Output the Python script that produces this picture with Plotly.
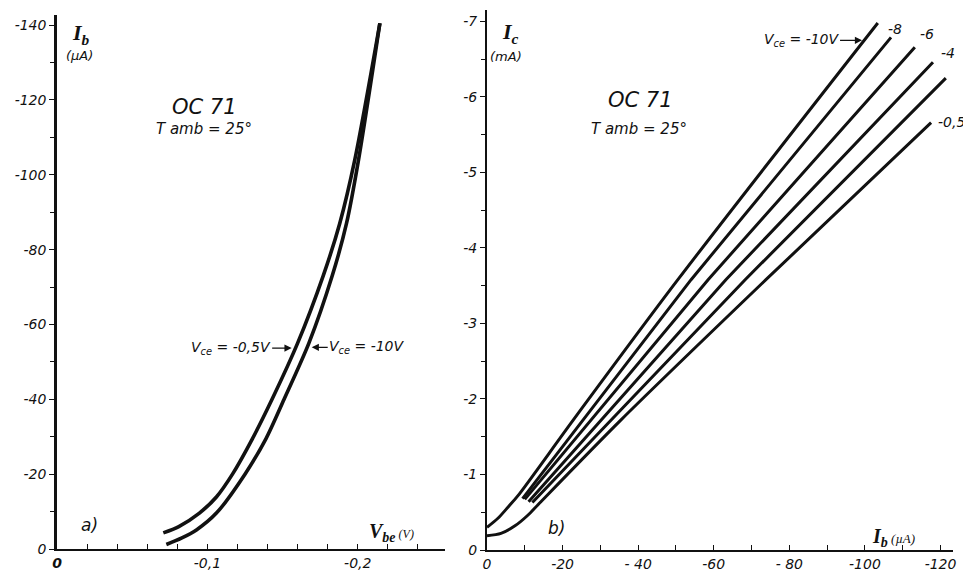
import plotly.graph_objects as go

# ---------------- data: panel a) Ib vs Vbe ----------------
vbe_05 = [-0.0707, -0.081, -0.0947, -0.106, -0.1167, -0.130, -0.143, -0.160, -0.177, -0.188, -0.198, -0.2147]
ib_05 = [-4.3, -6.0, -9.6, -13.9, -20, -29.5, -40, -55, -73, -87, -104, -140.5]
vbe_10 = [-0.0727, -0.0827, -0.0927, -0.106, -0.125, -0.139, -0.151, -0.1675, -0.183, -0.1925, -0.2005, -0.2147]
ib_10 = [-1.2, -2.9, -5.1, -9.6, -20, -29.5, -40, -55, -73, -87, -104, -140.5]

# ---------------- data: panel b) Ic vs Ib ----------------
ib_v10 = [0, -2.9, -5.6, -8.2, -22.8, -50.5, -103.4]
ic_v10 = [-0.30, -0.42, -0.57, -0.72, -1.72, -3.58, -6.98]
ib_v8 = [-9.4, -25.4, -54.0, -106.9]
ic_v8 = [-0.68, -1.72, -3.58, -6.79]
ib_v6 = [-10.0, -27.5, -58.5, -113.2]
ic_v6 = [-0.67, -1.72, -3.58, -6.66]
ib_v4 = [-11.0, -30.2, -63.2, -118.0]
ic_v4 = [-0.64, -1.72, -3.58, -6.46]
ib_v2 = [-12.0, -32.8, -68.3, -121.4]
ic_v2 = [-0.63, -1.72, -3.58, -6.25]
ib_v05 = [0, -3.7, -7.4, -10.8, -13.5, -35.4, -73.8, -117.5]
ic_v05 = [-0.19, -0.22, -0.32, -0.46, -0.60, -1.72, -3.58, -5.66]

# ---------------- tick labels ----------------
a_x_vals = [0, -0.1, -0.2]
a_x_text = ["<b>0</b>", "-0,1", "-0,2"]
a_y_vals = [0, -20, -40, -60, -80, -100, -120, -140]
a_y_text = ["0", "-20", "-40", "-60", "-80", "-100", "-120", "-140"]
b_x_vals = [0, -20, -40, -60, -80, -100, -120]
b_x_text = ["0", "-20", "- 40", "-60", "- 80", "-100", "-120"]
b_y_vals = [0, -1, -2, -3, -4, -5, -6, -7]
b_y_text = ["0", "-1", "-2", "-3", "-4", "-5", "-6", "-7"]

# page body has an 8px margin, so the figure is drawn 8px smaller and offset
OFF = 8
W, H = 971 - OFF, 575 - OFF
INK = "#111111"
FONT = "DejaVu Sans"
SERIF = "Liberation Serif"

fig = go.Figure()

def line(x, y, xa, ya, w, shape="spline"):
    fig.add_trace(go.Scatter(x=x, y=y, mode="lines", xaxis=xa, yaxis=ya,
                             line=dict(color=INK, width=w, shape=shape, smoothing=0.8),
                             showlegend=False, hoverinfo="skip"))

line(vbe_05, ib_05, "x", "y", 3.6)
line(vbe_10, ib_10, "x", "y", 3.6)
line(ib_v10, ic_v10, "x2", "y2", 3.0)
line(ib_v8, ic_v8, "x2", "y2", 3.0, "linear")
line(ib_v6, ic_v6, "x2", "y2", 3.0, "linear")
line(ib_v4, ic_v4, "x2", "y2", 3.0, "linear")
line(ib_v2, ic_v2, "x2", "y2", 3.0, "linear")
line(ib_v05, ic_v05, "x2", "y2", 3.0)

tickfont = dict(family=FONT, size=14, color=INK, style="italic")

def px_x(p):
    return (p - OFF) / W

def px_y(p):
    return (575 - p) / H

common = dict(showgrid=False, zeroline=False, showline=True, linecolor=INK,
              tickcolor=INK, tickfont=tickfont, tickmode="array", automargin=False)

fig.update_layout(
    width=W, height=H, margin=dict(l=0, r=0, t=0, b=0, autoexpand=False),
    paper_bgcolor="white", plot_bgcolor="white",
    xaxis=dict(domain=[px_x(57), px_x(445)], range=[0, -0.258], anchor="y",
               tickvals=a_x_vals, ticktext=a_x_text, ticks="inside", ticklen=5,
               linewidth=2, minor=dict(dtick=0.02, tick0=0, ticks="inside", ticklen=5, tickcolor=INK),
               **common),
    yaxis=dict(domain=[px_y(549), px_y(15)], range=[0, -142.7], anchor="x",
               tickvals=a_y_vals, ticktext=a_y_text, ticks="outside", ticklen=5,
               linewidth=2.5, minor=dict(dtick=10, tick0=0, ticks="outside", ticklen=4, tickcolor=INK),
               **common),
    xaxis2=dict(domain=[px_x(487), px_x(953)], range=[0, -123.3], anchor="y2",
                tickvals=b_x_vals, ticktext=b_x_text, ticks="inside", ticklen=5,
                linewidth=2, minor=dict(dtick=10, tick0=0, ticks="inside", ticklen=5, tickcolor=INK),
                **common),
    yaxis2=dict(domain=[px_y(550), px_y(10)], range=[0, -7.152], anchor="x2",
                tickvals=b_y_vals, ticktext=b_y_text, ticks="outside", ticklen=5,
                linewidth=2, minor=dict(dtick=0.5, tick0=0, ticks="outside", ticklen=4, tickcolor=INK),
                **common),
)

def txt(text, x, y, xref, yref, size=14, weight="normal", family=FONT, xanchor="center"):
    fig.add_annotation(text=text, x=x, y=y, xref=xref, yref=yref, showarrow=False,
                       xanchor=xanchor, yanchor="middle",
                       font=dict(family=family, size=size, color=INK, style="italic", weight=weight))

# panel a labels
txt("I<sub>b</sub>", -0.016, -137.6, "x", "y", size=22, weight="bold", family=SERIF)
txt("(µA)", -0.0147, -132, "x", "y", size=13)
txt("OC 71", -0.098, -118, "x", "y", size=21)
txt("T amb = 25°", -0.098, -112.3, "x", "y", size=15)
txt("a)", -0.0213, -6.4, "x", "y", size=17)
txt("<b>V<sub>be</sub></b><span style='font-size:12px'> (V)</span>", -0.2227, -4.3, "x", "y", size=20, family=SERIF)

def arrow(text, x, y, xref, yref, ax, size=14):
    fig.add_annotation(text=text, x=x, y=y, xref=xref, yref=yref, showarrow=True,
                       ax=ax, ay=0, arrowhead=2, arrowsize=1.2, arrowwidth=1.2,
                       arrowcolor=INK, standoff=1,
                       font=dict(family=FONT, size=size, color=INK, style="italic"))

arrow("V<sub>ce</sub> = -0,5V", -0.1567, -53.7, "x", "y", -62)
arrow("V<sub>ce</sub> = -10V", -0.1687, -53.9, "x", "y", 56)

# panel b labels
txt("I<sub>c</sub>", -6.1, -6.85, "x2", "y2", size=22, weight="bold", family=SERIF)
txt("(mA)", -5.0, -6.53, "x2", "y2", size=13)
txt("OC 71", -40.7, -5.96, "x2", "y2", size=21)
txt("T amb = 25°", -40.2, -5.58, "x2", "y2", size=15)
txt("b)", -18.3, -0.29, "x2", "y2", size=17)
txt("<b>I<sub>b</sub></b><span style='font-size:13px'> (µA)</span>", -107.5, -0.17, "x2", "y2", size=20, family=SERIF)
arrow("V<sub>ce</sub> = -10V", -99.5, -6.75, "x2", "y2", -62)
txt("-8", -107.9, -6.90, "x2", "y2", size=14)
txt("-6", -116.4, -6.83, "x2", "y2", size=14)
txt("-4", -122.0, -6.58, "x2", "y2", size=14)
txt("-2", -125.1, -6.25, "x2", "y2", size=14)
txt("-0,5", -122.8, -5.67, "x2", "y2", size=14)

fig.write_html("out.html")
